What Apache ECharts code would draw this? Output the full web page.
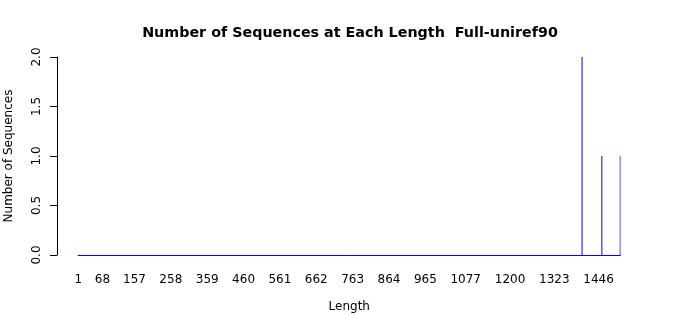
<!DOCTYPE html>
<html>
<head>
<meta charset="utf-8">
<script src="https://cdn.jsdelivr.net/npm/echarts@6/dist/echarts.min.js"></script>
<style>
html,body{margin:0;padding:0;background:#fff;}
#chart{width:700px;height:315px;}
</style>
</head>
<body>
<div id="chart"></div>
<script>
// Data
var maxLength = 1506;                       // last category on the axis
var peakLengths = [1400, 1455, 1506];       // lengths with non-zero counts
var peakCounts = [2, 1, 1];                 // number of sequences at those lengths
var xTickLabels = [1, 68, 157, 258, 359, 460, 561, 662, 763, 864, 965, 1077, 1200, 1323, 1446];
var yTicks = [0, 0.5, 1.0, 1.5, 2.0];

var categories = [];
var counts = [];
for (var i = 1; i <= maxLength; i++) {
  categories.push(String(i));
  var k = peakLengths.indexOf(i);
  counts.push(k >= 0 ? peakCounts[k] : 0);
}
var labelSet = {};
xTickLabels.forEach(function (v) { labelSet[String(v)] = true; });

var FONT = 'DejaVu Sans';
var chart = echarts.init(document.getElementById('chart'), null, {renderer: 'canvas'});
chart.setOption({
  animation: false,
  backgroundColor: '#ffffff',
  textStyle: {fontFamily: FONT},
  title: {
    text: 'Number of Sequences at Each Length  Full-uniref90',
    left: 'center',
    top: 21,
    textStyle: {fontFamily: FONT, fontSize: 14.3, fontWeight: 'bold', color: '#000'}
  },
  grid: {left: 78.1, right: 79.6, top: 57, bottom: 60, containLabel: false, outerBoundsMode: 'none'},
  xAxis: {
    type: 'category',
    data: categories,
    boundaryGap: true,
    name: 'Length',
    nameLocation: 'middle',
    nameGap: 46,
    nameTextStyle: {fontFamily: FONT, fontSize: 12, color: '#000'},
    axisLine: {show: true, lineStyle: {color: '#0000ff', width: 1}},
    axisTick: {show: false},
    axisLabel: {
      interval: function (index, value) { return !!labelSet[value]; },
      margin: 19,
      fontFamily: FONT, fontSize: 12, color: '#000'
    },
    splitLine: {show: false}
  },
  yAxis: {
    type: 'value',
    min: yTicks[0],
    max: yTicks[yTicks.length - 1],
    interval: 0.5,
    offset: 21,
    name: 'Number of Sequences',
    nameLocation: 'middle',
    nameGap: 42,
    nameRotate: 90,
    nameTextStyle: {fontFamily: FONT, fontSize: 12, color: '#000'},
    axisLine: {show: true, lineStyle: {color: '#000', width: 1}},
    axisTick: {show: true, length: 7, inside: false, lineStyle: {color: '#000'}},
    axisLabel: {
      rotate: 90,
      margin: 14,
      fontFamily: FONT, fontSize: 12, color: '#000',
      formatter: function (v) { return v.toFixed(1); }
    },
    splitLine: {show: false}
  },
  series: [{
    type: 'bar',
    data: counts,
    barWidth: 1,
    itemStyle: {color: '#0000ff'},
    large: false
  }]
});
</script>
</body>
</html>
